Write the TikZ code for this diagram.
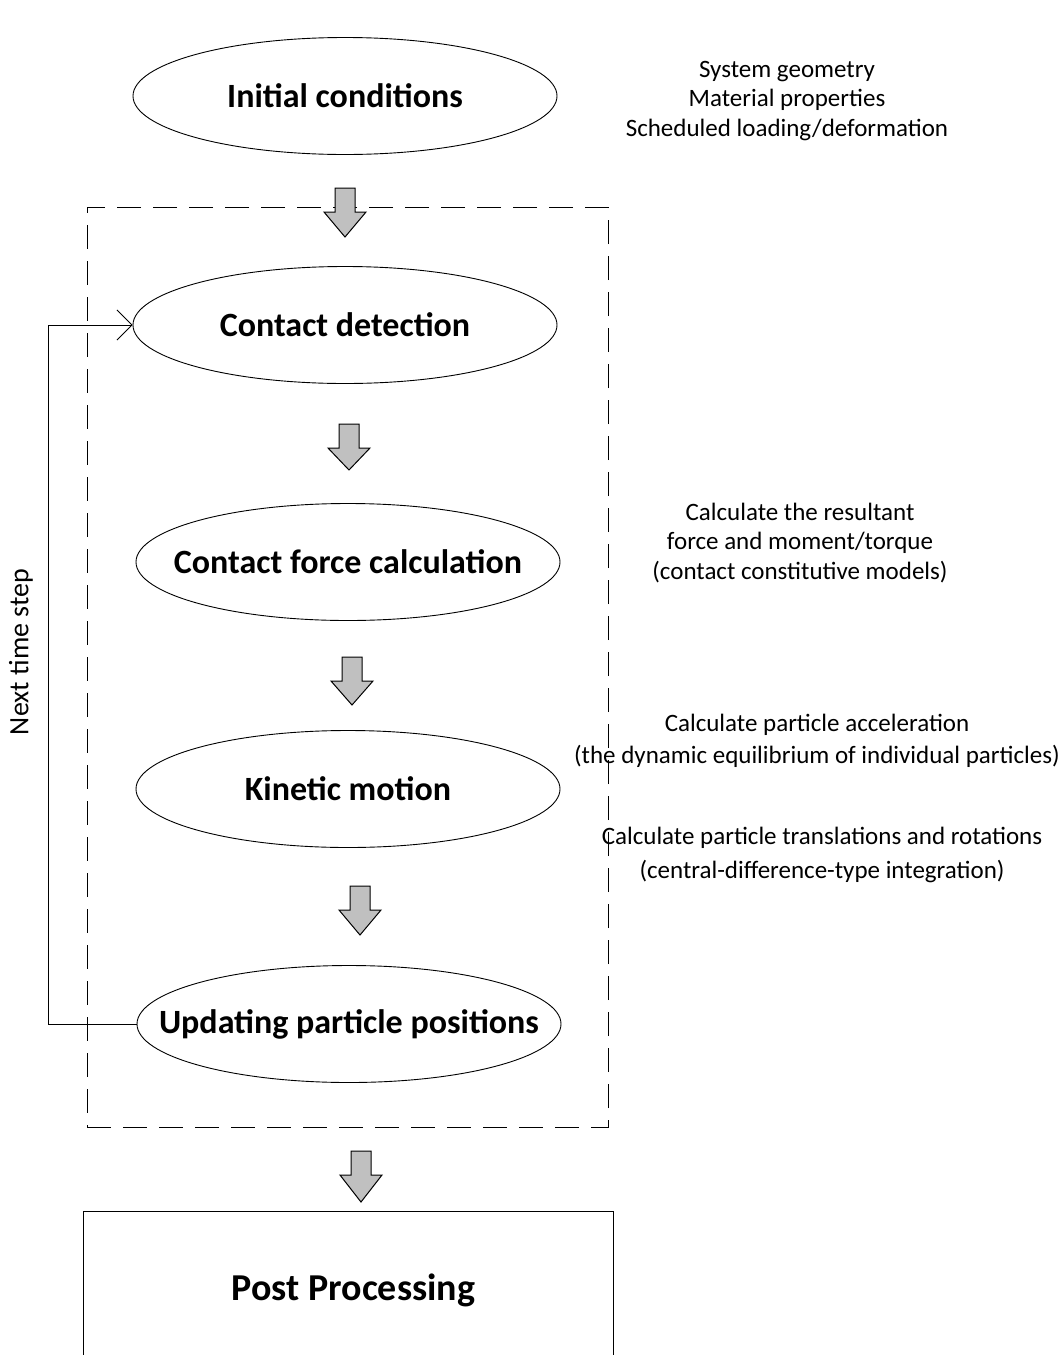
\documentclass[tikz,border=0pt]{standalone}
\usepackage{fontspec}
\setmainfont{Carlito}
\usetikzlibrary{shapes.geometric,arrows.meta}
\definecolor{arrowgray}{HTML}{C0C0C0}
\tikzset{
  stage/.style={draw, line width=0.9pt, ellipse, inner sep=0pt, minimum width=424pt, minimum height=117pt, font=\fontsize{34}{40}\selectfont\bfseries},
  note/.style={align=center, font=\fontsize{25}{29.5}\selectfont},
  blockarrow/.pic={\draw[line width=1pt, fill=arrowgray] (-10,0) -- (10,0) -- (10,24) -- (21,24) -- (0,#1) -- (-21,24) -- (-10,24) -- cycle;},
}
\begin{document}
\begin{tikzpicture}[x=1pt,y=-1pt]
\clip (0,0) rectangle (1063,1355);
\fill[white] (0,0) rectangle (1063,1355);

\node[draw, dash pattern=on 24pt off 12pt, line width=0.9pt, minimum width=521pt, minimum height=920pt, inner sep=0pt] (loopbox) at (347.5,667) {};

\node[stage] (init) at (345,96) {\makebox[0pt]{Initial conditions}};
\node[stage] (detect) at (345,325) {\makebox[0pt]{Contact detection}};
\node[stage] (force) at (348,562) {\makebox[0pt]{Contact force calculation}};
\node[stage] (kin) at (348,789) {\makebox[0pt]{Kinetic motion}};
\node[stage] (upd) at (349,1024) {\makebox[0pt]{Updating particle positions}};

\node[draw, line width=0.9pt, minimum width=530pt, minimum height=180pt, inner sep=0pt, anchor=north west] (post) at (83,1211) {};
\node[font=\fontsize{38}{44}\selectfont\bfseries] (posttext) at (353.5,1290) {Post Processing};

\pic at (345,188) {blockarrow=49};
\pic at (349,424) {blockarrow=46};
\pic at (352,657) {blockarrow=48};
\pic at (360,886) {blockarrow=49};
\pic at (361,1151) {blockarrow=51};

\coordinate (c1) at (48,1024);
\coordinate (c2) at (48,325);
\draw[line width=0.9pt, -{Straight Barb[length=15pt,width=30pt,line width=0.9pt]}] (upd.west) -- (c1) -- (c2) -- (detect.west);

\node[rotate=90, font=\fontsize{28}{32}\selectfont] (next) at (21,652) {Next time step};

\node[note] (n1) at (787,101) {System geometry\\Material properties\\Scheduled loading/deformation};
\node[note] (n2) at (800,543) {Calculate the resultant\\force and moment/torque\\(contact constitutive models)};
\node[note, font=\fontsize{25}{32}\selectfont] (n3) at (817,741) {Calculate particle acceleration\\(the dynamic equilibrium of individual particles)};
\node[note, font=\fontsize{25}{34}\selectfont] (n4) at (822,855) {Calculate particle translations and rotations\\(central-difference-type integration)};
\end{tikzpicture}
\end{document}
